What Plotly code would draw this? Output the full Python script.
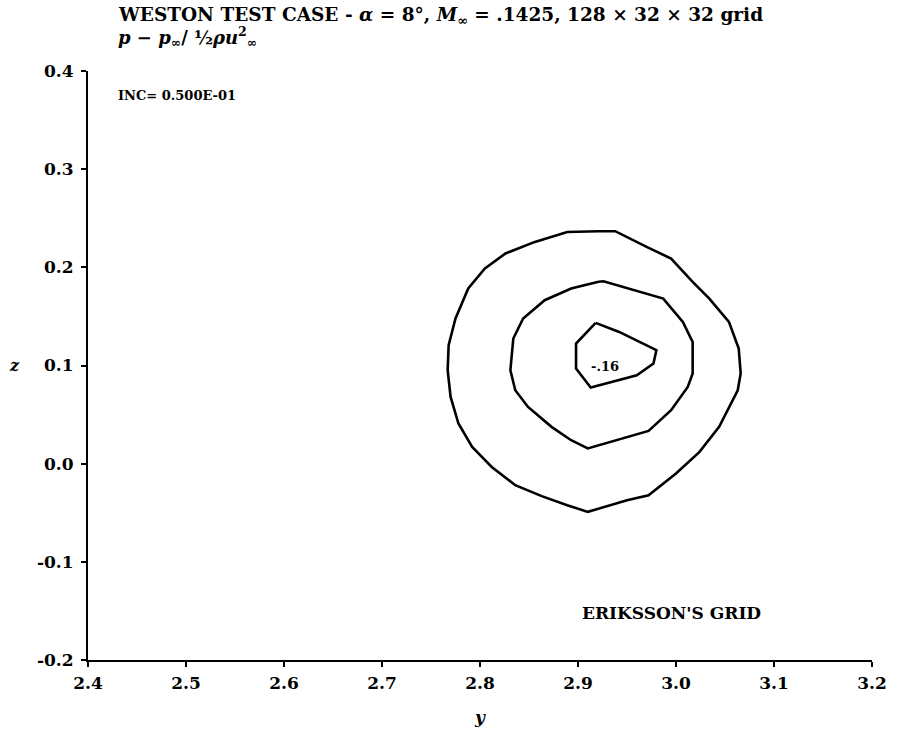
import plotly.graph_objects as go

# Pressure-coefficient contour lines (polyline vertices in y, z)
outer_y = [2.921, 2.938, 2.970, 2.995, 3.017, 3.034, 3.054, 3.064, 3.066, 3.063,
           3.044, 3.024, 3.000, 2.972, 2.950, 2.921, 2.910, 2.889, 2.863, 2.836,
           2.812, 2.792, 2.778, 2.770, 2.767, 2.768, 2.775, 2.788, 2.805, 2.826,
           2.856, 2.889, 2.921]
outer_z = [0.2368, 0.2368, 0.2208, 0.2090, 0.1851, 0.1682, 0.1444, 0.1173, 0.0919, 0.0748,
           0.0375, 0.0120, -0.0100, -0.0321, -0.0372, -0.0463, -0.0491, -0.0423, -0.0331, -0.0219,
           -0.0033, 0.0171, 0.0409, 0.0680, 0.0952, 0.1207, 0.1479, 0.1784, 0.1988, 0.2141,
           0.2259, 0.2360, 0.2368]

middle_y = [2.921, 2.926, 2.987, 3.007, 3.017, 3.017, 3.012, 2.995, 2.972, 2.950,
            2.921, 2.910, 2.893, 2.873, 2.849, 2.836, 2.831, 2.834, 2.844, 2.866,
            2.893, 2.921]
middle_z = [0.1853, 0.1858, 0.1682, 0.1444, 0.1240, 0.0919, 0.0782, 0.0545, 0.0334, 0.0273,
            0.0188, 0.0155, 0.0239, 0.0375, 0.0578, 0.0748, 0.0952, 0.1275, 0.1479, 0.1665,
            0.1784, 0.1853]

inner_y = [2.918, 2.942, 2.980, 2.977, 2.960, 2.913, 2.898, 2.898, 2.918]
inner_z = [0.1434, 0.1342, 0.1156, 0.1020, 0.0901, 0.0776, 0.0969, 0.1224, 0.1434]

label_text = "-.16"
label_pos = (2.928, 0.0993)

x_ticks = [2.4, 2.5, 2.6, 2.7, 2.8, 2.9, 3.0, 3.1, 3.2]
x_ticktext = ["2.4", "2.5", "2.6", "2.7", "2.8", "2.9", "3.0", "3.1", "3.2"]
z_ticks = [-0.2, -0.1, 0.0, 0.1, 0.2, 0.3, 0.4]
z_ticktext = ["-0.2", "-0.1", "0.0", "0.1", "0.2", "0.3", "0.4"]

SERIF = "DejaVu Serif"
line_style = dict(color="black", width=2.6)

fig = go.Figure()
for ys, zs in [(outer_y, outer_z), (middle_y, middle_z), (inner_y, inner_z)]:
    fig.add_trace(go.Scatter(x=ys, y=zs, mode="lines", line=line_style,
                             hoverinfo="skip", showlegend=False))

fig.add_annotation(x=label_pos[0], y=label_pos[1], text=label_text, showarrow=False,
                   font=dict(family=SERIF, size=13, color="black", weight="bold"))

axis_font = dict(family=SERIF, size=17, color="black", weight="bold")
fig.update_xaxes(range=[2.4, 3.2], tickvals=x_ticks, ticktext=x_ticktext,
                 showgrid=False, zeroline=False, showline=True, linecolor="black",
                 linewidth=2, ticks="outside", ticklen=5, tickwidth=1.5,
                 tickcolor="black", tickfont=axis_font, ticklabelstandoff=2,
                 ticklabeloverflow="allow")
fig.update_yaxes(range=[-0.2, 0.4], tickvals=z_ticks, ticktext=z_ticktext,
                 showgrid=False, zeroline=False, showline=True, linecolor="black",
                 linewidth=2, ticks="outside", ticklen=5, tickwidth=1.5,
                 tickcolor="black", tickfont=axis_font, ticklabelstandoff=4,
                 ticklabeloverflow="allow")

# Titles and captions
fig.add_annotation(xref="paper", yref="paper", x=0.036, y=1.0, yshift=69,
                   xanchor="left", yanchor="top", showarrow=False, align="left",
                   text="WESTON TEST CASE - <i>α</i> = 8°, <i>M</i><sub>∞</sub> = .1425, 128 × 32 × 32 grid",
                   font=dict(family=SERIF, size=18.5, color="black", weight="bold"))
fig.add_annotation(xref="paper", yref="paper", x=0.036, y=1.0, yshift=49,
                   xanchor="left", yanchor="top", showarrow=False, align="left",
                   text="<i>p</i> − <i>p</i><sub>∞</sub>/ ½<i>ρu</i><sup>2</sup><sub>∞</sub>",
                   font=dict(family=SERIF, size=18, color="black", weight="bold"))
fig.add_annotation(xref="paper", yref="paper", x=0.036, y=0.958,
                   xanchor="left", yanchor="middle", showarrow=False,
                   text="INC= 0.500E-01",
                   font=dict(family=SERIF, size=13, color="black", weight="bold"))
fig.add_annotation(xref="paper", yref="paper", x=0.628, y=0.08,
                   xanchor="left", yanchor="middle", showarrow=False,
                   text="ERIKSSON'S GRID",
                   font=dict(family=SERIF, size=17, color="black", weight="bold"))
fig.add_annotation(xref="paper", yref="paper", x=0.5, y=0.0, yshift=-57,
                   xanchor="center", yanchor="middle", showarrow=False,
                   text="<i>y</i>",
                   font=dict(family=SERIF, size=17, color="black", weight="bold"))
fig.add_annotation(xref="paper", yref="paper", x=0.0, xshift=-74, y=0.5,
                   xanchor="center", yanchor="middle", showarrow=False,
                   text="<i>z</i>",
                   font=dict(family=SERIF, size=16, color="black", weight="bold"))

fig.update_layout(width=898, height=736,
                  margin=dict(l=88, r=11, t=71, b=76),
                  plot_bgcolor="white", paper_bgcolor="white")

fig.write_html("out.html")
